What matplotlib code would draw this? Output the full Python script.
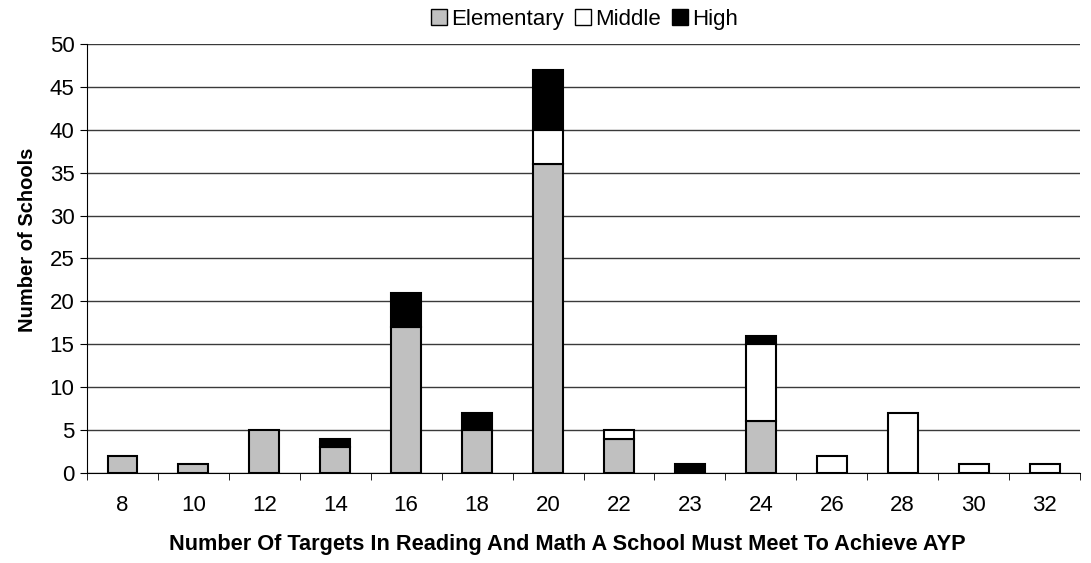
import matplotlib.pyplot as plt
import numpy as np
from matplotlib.patches import Patch

plt.rcParams['font.family'] = ['Liberation Sans', 'DejaVu Sans']

# data
targets = ['8', '10', '12', '14', '16', '18', '20', '22', '23', '24', '26', '28', '30', '32']
elementary = [2, 1, 5, 3, 17, 5, 36, 4, 0, 6, 0, 0, 0, 0]
middle = [0, 0, 0, 0, 0, 0, 4, 1, 0, 9, 2, 7, 1, 1]
high = [0, 0, 0, 1, 4, 2, 7, 0, 1, 1, 0, 0, 0, 0]

fig = plt.figure(figsize=(10.91, 5.63), dpi=100)
ax = fig.add_axes([0.0797, 0.16, 0.9103, 0.762])

x = np.arange(len(targets))
elem = np.array(elementary)
mid = np.array(middle)
hi = np.array(high)
w = 0.42

def draw(vals, bottom, color):
    vals = np.array(vals)
    m = vals > 0
    ax.bar(x[m], vals[m], w, bottom=bottom[m], color=color, edgecolor='black',
           linewidth=1.5, zorder=3)

draw(elem, np.zeros(len(x)), '#c0c0c0')
draw(mid, elem, 'white')
draw(hi, elem + mid, 'black')

ax.set_ylim(0, 50)
ax.set_yticks(range(0, 51, 5))
ax.set_xlim(-0.5, len(targets) - 0.5)
ax.set_xticks(x)
ax.set_xticklabels(targets)
ax.set_xticks(np.arange(-0.5, len(targets)), minor=True)
ax.tick_params(axis='x', which='major', length=0, labelsize=16, pad=16)
ax.tick_params(axis='x', which='minor', length=5, color='black')
ax.tick_params(axis='y', labelsize=16, length=5, color='black', pad=4)
ax.grid(axis='y', color='#3a3a3a', linewidth=1, zorder=0)

for s in ['top', 'right']:
    ax.spines[s].set_visible(False)
ax.spines['left'].set_color('black')
ax.spines['bottom'].set_color('black')

ax.set_xlabel('Number Of Targets In Reading And Math A School Must Meet To Achieve AYP',
              fontsize=15.7, fontweight='bold', va='center')
ax.xaxis.set_label_coords(0.484, -0.168)
ax.set_ylabel('Number of Schools', fontsize=14.5, fontweight='bold', va='center')
ax.yaxis.set_label_coords(-0.0594, 0.543)

handles = [Patch(facecolor='#c0c0c0', edgecolor='black', label='Elementary'),
           Patch(facecolor='white', edgecolor='black', label='Middle'),
           Patch(facecolor='black', edgecolor='black', label='High')]
fig.legend(handles=handles, loc='upper center', bbox_to_anchor=(0.536, 1.02), ncol=3,
           frameon=False, fontsize=16, handlelength=0.7, handleheight=0.7,
           handletextpad=0.2, columnspacing=0.5)

fig.savefig('out.png', dpi=100)
